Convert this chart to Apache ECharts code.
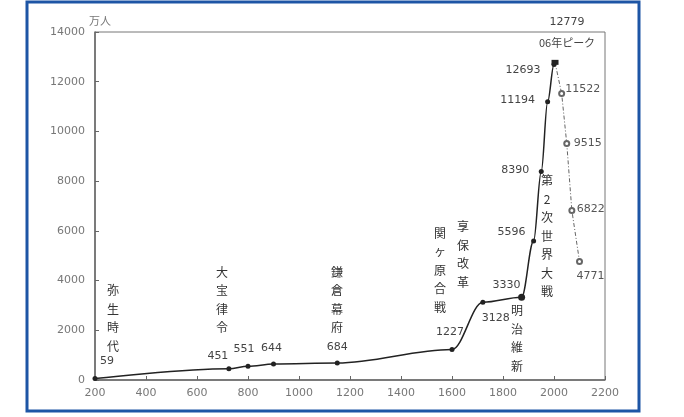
<!DOCTYPE html>
<html>
<head>
<meta charset="utf-8">
<script src="https://cdn.jsdelivr.net/npm/echarts@6/dist/echarts.min.js"></script>
<style>
html,body{margin:0;padding:0;background:#fff;}
#c{width:684px;height:417px;}
</style>
</head>
<body>
<div id="c"></div>
<script>
// ---- data ----
const histYears = [200, 725, 800, 900, 1150, 1600, 1721, 1873, 1920, 1950, 1975, 2000, 2004];
const histPop   = [59, 451, 551, 644, 684, 1227, 3128, 3330, 5596, 8390, 11194, 12693, 12779];
const projYears = [2004, 2030, 2050, 2070, 2100];
const projPop   = [12779, 11522, 9515, 6822, 4771];
const peakNote  = '06年ピーク';
const eventNames = ['弥生時代', '大宝律令', '鎌倉幕府', '関ヶ原合戦', '享保改革', '明治維新', '第2次世界大戦'];
const xTicks = [200, 400, 600, 800, 1000, 1200, 1400, 1600, 1800, 2000, 2200];
const yTicks = [0, 2000, 4000, 6000, 8000, 10000, 12000, 14000];
const unitLabel = '万人';

// ---- layout (label placement only) ----
const histLabelOffset = [[12,-17],[-11,-13],[-4,-17],[-2,-16],[0,-16],[-2,-17],[13,16],[-15,-12],[-22,-9],[-26,-1],[-30,-2],[-31,6],[12,-30]];
const projLabelOffset = [null,[22,-3],[22,1],[20,0],[12,16]];
const eventAnchor = [[271,2474],[698,3218],[1149,3218],[1553,4425],[1643,5049],[1855,1670],[1973,5793]];

const numFont = 'DejaVu Sans';
const jpFont = '"Noto Sans CJK JP", sans-serif';

function posFor(size, off) {
  const w = Array.isArray(size) ? size[0] : size;
  const h = Array.isArray(size) ? size[1] : size;
  return [w / 2 + off[0], h / 2 + off[1]];
}

const histData = histYears.map((y, i) => {
  const last = i === histYears.length - 1;
  let size = 5;
  const o = { value: [y, histPop[i]] };
  if (last) { o.symbol = 'rect'; size = [7, 5]; }
  if (y === 1873) { size = 7; }
  o.symbolSize = size;
  o.label = {
    show: true, position: posFor(size, histLabelOffset[i]),
    formatter: last ? '{a|' + histPop[i] + '}\n{b|' + peakNote + '}' : String(histPop[i]),
    color: '#444', fontFamily: numFont, fontSize: 11,
    lineHeight: 20, align: 'center', verticalAlign: 'middle',
    rich: {
      a: {fontFamily: numFont, fontSize: 11, color: '#444', lineHeight: 20},
      b: {fontFamily: jpFont, fontSize: 11, color: '#444', lineHeight: 20}
    }
  };
  return o;
});

const projData = projYears.map((y, i) => {
  const o = { value: [y, projPop[i]] };
  if (i === 0) { o.symbol = 'none'; o.label = {show:false}; }
  else {
    o.label = {show:true, position: posFor(5, projLabelOffset[i]), formatter: String(projPop[i]),
      color:'#555', fontFamily:numFont, fontSize:11, align:'center', verticalAlign:'middle'};
  }
  return o;
});

const eventData = eventNames.map((n, i) => ({
  coord: eventAnchor[i],
  value: n,
  label: { formatter: n.split('').join('\n') }
}));

const chart = echarts.init(document.getElementById('c'), null, {renderer:'canvas'});
chart.setOption({
  animation: false,
  backgroundColor: '#fff',
  grid: { left: 95, right: 79, top: 32, bottom: 37, show: true, borderColor: '#777', borderWidth: 1 },
  xAxis: {
    type: 'value', min: xTicks[0], max: xTicks[xTicks.length-1], interval: 200,
    axisLine: {lineStyle:{color:'#666', width:1.5}},
    axisTick: {inside:true, length:4, lineStyle:{color:'#666'}},
    axisLabel: {color:'#777', fontFamily:numFont, fontSize:11, margin:8, formatter: v => String(v)},
    splitLine: {show:false}
  },
  yAxis: {
    type: 'value', min: yTicks[0], max: yTicks[yTicks.length-1], interval: 2000,
    name: unitLabel, nameLocation: 'end', nameGap: 5,
    nameTextStyle: {color:'#777', fontFamily:jpFont, fontSize:11, align:'left', padding:[0,0,0,-6]},
    axisLine: {lineStyle:{color:'#666', width:1.5}},
    axisTick: {inside:true, length:4, lineStyle:{color:'#666'}},
    axisLabel: {color:'#777', fontFamily:numFont, fontSize:11, margin:10, formatter: v => String(v)},
    splitLine: {show:false}
  },
  graphic: [{
    type:'rect', shape:{x:27, y:2, width:612, height:409},
    style:{fill:'none', stroke:'#1d55a5', lineWidth:3}, silent:true
  }],
  series: [
    {
      type:'line', data: histData, smooth: 0.35, smoothMonotone: 'x',
      symbol:'circle', symbolSize:5,
      itemStyle:{color:'#222'}, lineStyle:{color:'#222', width:1.5},
      z: 3,
      markPoint: {
        symbol:'circle', symbolSize:0, data: eventData,
        label:{show:true, position:'inside', color:'#333', fontFamily:jpFont, fontSize:12,
          lineHeight:18.5, align:'center', verticalAlign:'middle'}
      }
    },
    {
      type:'line', data: projData, symbol:'emptyCircle', symbolSize:5,
      itemStyle:{color:'#666'}, lineStyle:{color:'#666', width:1, type:[4,2,1,2]},
      z: 2
    }
  ]
});
</script>
</body>
</html>
